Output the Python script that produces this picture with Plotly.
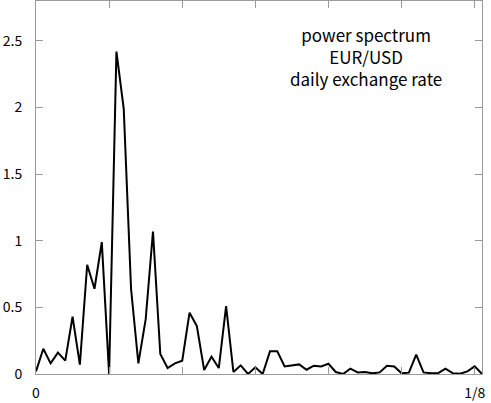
import plotly.graph_objects as go

# ── dados: espectro de potência, passo de frequência 1/480 ──
FREQ_STEP = 1 / 480
POWER = [
    0.02, 0.19, 0.08, 0.16, 0.10, 0.43, 0.07, 0.82, 0.64, 0.99,
    0.00, 2.42, 1.99, 0.64, 0.08, 0.41, 1.07, 0.15, 0.045, 0.08,
    0.10, 0.46, 0.36, 0.03, 0.13, 0.045, 0.51, 0.015, 0.065, 0.00,
    0.05, 0.00, 0.17, 0.17, 0.057, 0.065, 0.072, 0.032, 0.062, 0.057,
    0.077, 0.015, 0.00, 0.04, 0.012, 0.015, 0.005, 0.012, 0.062, 0.057,
    0.005, 0.01, 0.145, 0.012, 0.006, 0.006, 0.04, 0.006, 0.002, 0.02,
    0.057, 0.00,
]
FREQ = [i * FREQ_STEP for i in range(len(POWER))]

X_TICKS = [i / 48 for i in range(7)]
X_LABELS = ["0", "", "", "", "", "", "1/8"]
Y_TICKS = [0, 0.5, 1, 1.5, 2, 2.5]
Y_LABELS = ["0", "0.5", "1", "1.5", "2", "2.5"]

FONT = "Noto Sans CJK JP"
AXIS_GRAY = "#9a9a9a"

_AXIS_STYLE = dict(
    showgrid=False,
    zeroline=False,
    automargin=False,
    showline=True,
    linecolor=AXIS_GRAY,
    linewidth=1,
    mirror="ticks",
    ticks="inside",
    ticklen=7,
    tickcolor=AXIS_GRAY,
    tickfont=dict(family=FONT, size=14, color="black"),
)

fig = go.Figure()
fig.add_trace(go.Scatter(
    x=FREQ, y=POWER,
    mode="lines",
    line=dict(color="black", width=2),
    showlegend=False,
))

fig.add_annotation(
    x=0.74, y=0.948, xref="paper", yref="paper",
    xanchor="center", yanchor="top",
    text="power spectrum<br>EUR/USD<br>daily exchange rate",
    showarrow=False, align="center",
    font=dict(family=FONT, size=17, color="black"),
)

fig.update_layout(
    template="none",
    width=491, height=403,
    plot_bgcolor="white", paper_bgcolor="white",
    margin=dict(l=36, r=9, t=1, b=29),
)
fig.update_xaxes(
    range=[0, 61 * FREQ_STEP],
    tickvals=X_TICKS, ticktext=X_LABELS,
    ticklabelstandoff=6,
    **_AXIS_STYLE,
)
fig.update_yaxes(
    range=[0, 2.8],
    tickvals=Y_TICKS, ticktext=Y_LABELS,
    ticklabelstandoff=10,
    **_AXIS_STYLE,
)

# tira a margem padrão de 8 px do <body> para a figura ocupar a janela toda
fig.write_html(
    "out.html",
    config={"displayModeBar": False},
    post_script="document.body.style.margin='0';",
)
